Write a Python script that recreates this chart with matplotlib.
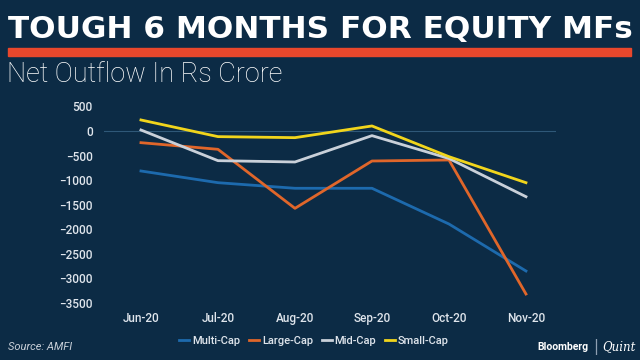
import matplotlib
matplotlib.use("Agg")
from matplotlib import pyplot as plt
from matplotlib.lines import Line2D
from matplotlib.patches import Rectangle

months = ["Jun-20", "Jul-20", "Aug-20", "Sep-20", "Oct-20", "Nov-20"]
multi_cap = [-814, -1052, -1166, -1166, -1893, -2849]
large_cap = [-238, -373, -1574, -611, -590, -3317]
mid_cap = [20, -604, -631, -95, -560, -1337]
small_cap = [224, -115, -136, 102, -523, -1052]

series = [
    ("Multi-Cap", multi_cap, "#1d6aad"),
    ("Large-Cap", large_cap, "#e0662a"),
    ("Mid-Cap", mid_cap, "#c9d0d9"),
    ("Small-Cap", small_cap, "#f1d51c"),
]

bg = "#0c2b45"
txt = "#dfe5ec"

fig = plt.figure(figsize=(6.4, 3.6), dpi=100, facecolor=bg)
W, H = 640, 360


def fit_width(t, target_px):
    # scale the font so the text spans target_px pixels
    r = fig.canvas.get_renderer()
    w = t.get_window_extent(renderer=r).width
    t.set_fontsize(t.get_fontsize() * target_px / w)


# header
title = fig.text(8 / W, 1 - 30 / H, "TOUGH 6 MONTHS FOR EQUITY MFs", color="white",
                 fontsize=20, fontweight="bold", family="DejaVu Sans", va="center", ha="left")
fit_width(title, 622)
fig.patches.append(Rectangle((8 / W, 1 - 56 / H), 623 / W, 8 / H,
                             transform=fig.transFigure, color="#e8472c"))
sub = fig.text(7 / W, 1 - 82 / H, "Net Outflow In Rs Crore", color="white",
               fontsize=18, fontweight="light", family="Roboto", va="baseline", ha="left")
fit_width(sub, 276)

# plot area: x from 104 to 556 px, y 500 at 106.4 and -3500 at 303
y_top_px, y_bot_px = 100, 308
ax = fig.add_axes([104 / W, 1 - y_bot_px / H, (556 - 104) / W, (y_bot_px - y_top_px) / H])
ax.set_facecolor(bg)
per = 24.57 / 500.0
ax.set_ylim(-3500 - (y_bot_px - 303) / per, 500 + (106.4 - y_top_px) / per)
ax.set_xlim(-0.48, 5.39)

ax.axhline(0, color="#2f5878", lw=0.8, zorder=1)
for name, vals, c in series:
    ax.plot(range(len(months)), vals, color=c, lw=2.0, zorder=3)

for s in ax.spines.values():
    s.set_visible(False)
ax.set_yticks(range(-3500, 501, 500))
ax.set_xticks(range(len(months)))
ax.set_xticklabels(months)
ax.tick_params(length=0, colors=txt, labelsize=8.5)
ax.tick_params(axis="y", pad=8)
ax.tick_params(axis="x", pad=3)
for lab in ax.get_xticklabels() + ax.get_yticklabels():
    lab.set_fontweight("medium")
    lab.set_family("Roboto")

handles = [Line2D([0], [0], color=c, lw=2) for _, _, c in series]
fig.legend(handles, [s[0] for s in series], loc="center", bbox_to_anchor=(314 / W, 1 - 341 / H),
           ncol=4, frameon=False, labelcolor=txt, handlelength=0.9,
           handletextpad=0.25, columnspacing=0.8,
           prop={"family": "Roboto", "size": 8, "weight": "medium"})

fig.text(8 / W, 1 - 347 / H, "Source: AMFI", color="#c9d0d9", fontsize=8,
         style="italic", family="Roboto", va="center", ha="left")
fig.text(589 / W, 1 - 347 / H, "Bloomberg", color="white", fontsize=7.5,
         fontweight="bold", family="Roboto", va="center", ha="right")
fig.text(596 / W, 1 - 347 / H, "|", color="#8fa0b3", fontsize=11,
         family="DejaVu Sans", va="center", ha="center")
fig.text(602 / W, 1 - 347 / H, "Quint", color="white", fontsize=8.5,
         style="italic", family="DejaVu Serif", va="center", ha="left")

plt.savefig("out.png", dpi=100, facecolor=bg)
